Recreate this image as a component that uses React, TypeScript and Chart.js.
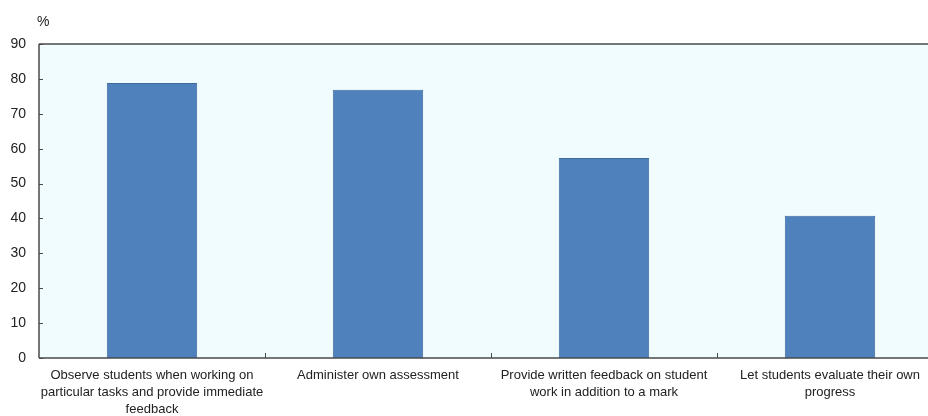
import React, { useEffect, useRef } from "react";
import { Chart, registerables } from "chart.js";

Chart.register(...registerables);

const categories: string[][] = [
  ["Observe students when working on", "particular tasks and provide immediate", "feedback"],
  ["Administer own assessment"],
  ["Provide written feedback on student", "work in addition to a mark"],
  ["Let students evaluate their own", "progress"],
];
const values: number[] = [78.8, 76.9, 57.3, 40.8];
const yMin = 0;
const yMax = 90;
const yStep = 10;
const yUnit = "%";

const CANVAS_W = 943;
const CANVAS_H = 416;
const FONT = "'Liberation Sans', Arial, sans-serif";

const decorPlugin = {
  id: "decor",
  beforeDraw(chart: any) {
    const { ctx, chartArea } = chart;
    ctx.save();
    ctx.fillStyle = "#f0fcfe";
    ctx.fillRect(chartArea.left, chartArea.top, chartArea.right - chartArea.left, chartArea.bottom - chartArea.top);
    ctx.restore();
  },
  afterDraw(chart: any) {
    const { ctx, chartArea, scales } = chart;
    const { left, right, top, bottom } = chartArea;
    ctx.save();
    ctx.strokeStyle = "#4a4a4a";
    ctx.lineWidth = 1.5;
    ctx.beginPath();
    ctx.moveTo(left, top);
    ctx.lineTo(right, top);
    ctx.moveTo(left, top);
    ctx.lineTo(left, bottom);
    ctx.moveTo(left, bottom);
    ctx.lineTo(right, bottom);
    ctx.stroke();
    // y tick marks (inward)
    ctx.lineWidth = 1;
    ctx.beginPath();
    const ys = scales.y;
    for (let v = yMin; v <= yMax; v += yStep) {
      const py = Math.round(ys.getPixelForValue(v)) + 0.5;
      ctx.moveTo(left, py);
      ctx.lineTo(left + 4, py);
    }
    // x tick marks at category boundaries (inward)
    const xs = scales.x;
    for (let i = 1; i < categories.length; i++) {
      const px = Math.round((xs.getPixelForValue(i - 1) + xs.getPixelForValue(i)) / 2) + 0.5;
      ctx.moveTo(px, bottom);
      ctx.lineTo(px, bottom - 5);
    }
    ctx.stroke();
    // unit label
    ctx.fillStyle = "#222";
    ctx.font = `14px ${FONT}`;
    ctx.textAlign = "left";
    ctx.textBaseline = "middle";
    ctx.fillText(yUnit, 37, 22);
    ctx.restore();
  },
};

export default function App() {
  const ref = useRef<HTMLCanvasElement | null>(null);
  useEffect(() => {
    if (!ref.current) return;
    const chart = new Chart(ref.current, {
      type: "bar",
      data: {
        labels: categories,
        datasets: [
          {
            data: values,
            backgroundColor: "#4f81bd",
            borderColor: "#3f6b9f",
            borderWidth: 1,
            barPercentage: 0.4,
            categoryPercentage: 1,
          },
        ],
      },
      options: {
        responsive: false,
        animation: false,
        devicePixelRatio: 1,
        layout: { padding: { top: 44, left: 0, right: 0, bottom: 0 } },
        plugins: { legend: { display: false }, tooltip: { enabled: false } },
        scales: {
          x: {
            grid: { display: false, drawTicks: false },
            border: { display: false },
            ticks: {
              color: "#222",
              font: { family: FONT, size: 13, lineHeight: 1.3 },
              padding: 9,
              maxRotation: 0,
              autoSkip: false,
            },
            afterFit(scale: any) {
              scale.height = 58;
            },
          },
          y: {
            min: yMin,
            max: yMax,
            grid: { display: false, drawTicks: false },
            border: { display: false },
            ticks: {
              stepSize: yStep,
              color: "#222",
              font: { family: FONT, size: 14 },
              padding: 13,
            },
            afterFit(scale: any) {
              scale.width = 39;
            },
          },
        },
      },
      plugins: [decorPlugin],
    });
    return () => chart.destroy();
  }, []);
  return (
    <div
      style={{
        position: "fixed",
        left: 0,
        top: 0,
        width: 928,
        height: 416,
        overflow: "hidden",
        background: "#fff",
      }}
    >
      <canvas ref={ref} width={CANVAS_W} height={CANVAS_H} style={{ display: "block" }} />
    </div>
  );
}
